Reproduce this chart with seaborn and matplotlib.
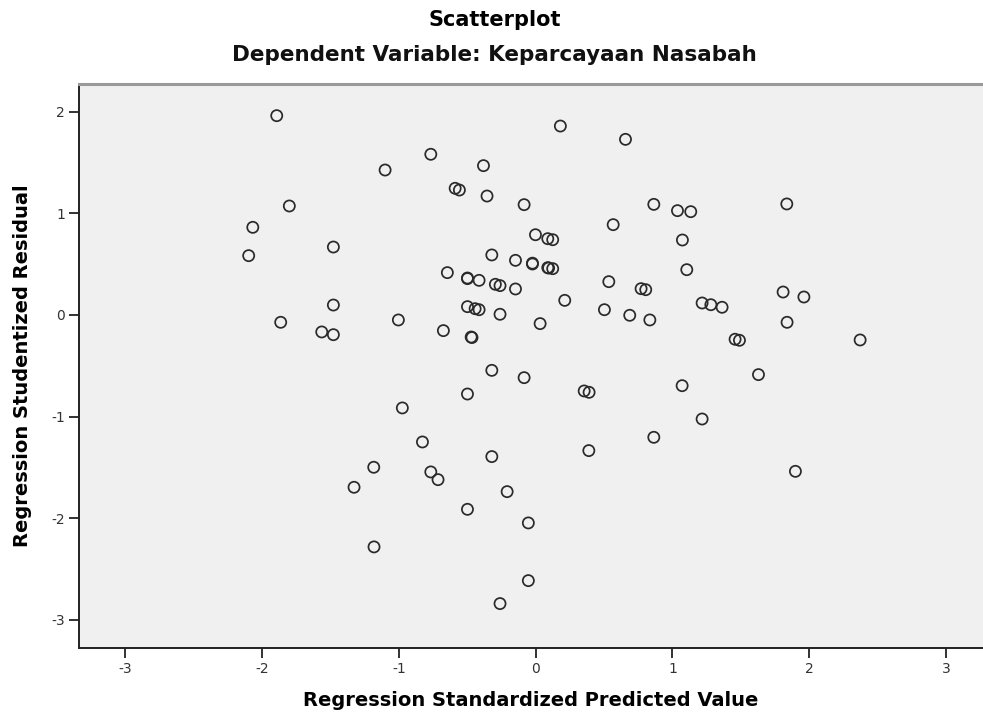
import matplotlib
matplotlib.use("Agg")
import matplotlib.pyplot as plt
import seaborn as sns

# Regression standardized predicted value (x) and studentized residual (y),
# read off the reference scatterplot
predicted = [
    -1.892, -1.100, -1.800, -2.067, -1.478, -2.097, -1.478, -1.863, -1.563, -1.478,
    0.181, 0.657, -0.766, -0.381, -0.588, -0.557, -0.355, -0.084, 0.864, 1.037,
    1.134, 0.567, 1.073, -0.001, 0.089, 0.125, -0.320, -0.147, -0.023, -0.023,
    0.089, 0.125, 0.095, -0.645, -0.498, -0.498, -0.413, -0.294, -0.260, -0.147,
    0.535, 0.771, 0.805, 0.213, -0.498, -0.442, -0.413, -0.260, 0.503, 0.688,
    0.835, -1.003, -0.674, -0.471, -0.465, 0.033, 1.105, 1.809, 1.961, 1.217,
    1.281, 1.363, 1.838, 1.458, 1.490, 2.372, 1.836, -1.183, -1.327, -1.181,
    -0.320, -0.084, -0.498, 0.355, 0.391, 1.071, -0.974, -0.827, 0.864, 0.389,
    -0.320, -0.766, -0.713, -0.208, -0.498, -0.053, -0.053, -0.260, 1.629, 1.217,
    1.899,
]
residual = [
    1.962, 1.427, 1.073, 0.863, 0.669, 0.584, 0.098, -0.072, -0.167, -0.194,
    1.860, 1.729, 1.582, 1.470, 1.247, 1.230, 1.171, 1.086, 1.089, 1.027,
    1.017, 0.889, 0.738, 0.790, 0.751, 0.741, 0.591, 0.538, 0.502, 0.510,
    0.466, 0.456, 0.462, 0.417, 0.364, 0.358, 0.341, 0.302, 0.289, 0.256,
    0.328, 0.259, 0.249, 0.144, 0.082, 0.062, 0.052, 0.007, 0.052, -0.003,
    -0.049, -0.049, -0.154, -0.217, -0.222, -0.085, 0.446, 0.226, 0.177, 0.118,
    0.101, 0.076, -0.072, -0.239, -0.249, -0.246, 1.093, -1.499, -1.696, -2.283,
    -0.545, -0.617, -0.778, -0.748, -0.761, -0.696, -0.915, -1.250, -1.204, -1.335,
    -1.394, -1.545, -1.621, -1.739, -1.913, -2.047, -2.615, -2.841, -0.587, -1.024,
    -1.539,
]
x_ticks = [-3, -2, -1, 0, 1, 2, 3]
y_ticks = [-3, -2, -1, 0, 1, 2]

sns.set_style("white")
plt.rcParams["font.family"] = ["DejaVu Sans"]
plt.rcParams["axes.unicode_minus"] = False  # SPSS prints a plain hyphen

fig = plt.figure(figsize=(9.83, 7.19), dpi=100)
ax = fig.add_axes([0.0804, 0.0992, 0.9196, 0.784])
ax.set_facecolor("#f0f0f0")

sns.scatterplot(x=predicted, y=residual, ax=ax, marker="o", s=64,
                facecolor="none", edgecolor="#2a2a2a", linewidth=1.25)

ax.set_xlim(-3.337, 3.27)
ax.set_ylim(-3.275, 2.274)
ax.set_xticks(x_ticks)
ax.set_yticks(y_ticks)
ax.tick_params(axis="both", bottom=True, left=True, direction="out",
               length=7, width=1.3, color="#222222", labelsize=10,
               labelcolor="#333333", pad=3)

for side in ["left", "bottom"]:
    ax.spines[side].set_color("#222222")
    ax.spines[side].set_linewidth(1.4)
ax.spines["top"].set_color("#9a9a9a")
ax.spines["top"].set_linewidth(2.2)
ax.spines["right"].set_visible(False)

ax.set_xlabel("Regression Standardized Predicted Value", fontsize=14,
              fontweight="bold", color="black", labelpad=11)
ax.set_ylabel("Regression Studentized Residual", fontsize=14,
              fontweight="bold", color="black", labelpad=14)

fig.text(0.503, 0.972, "Scatterplot", ha="center", va="center",
         fontsize=15, fontweight="bold", color="black")
fig.text(0.503, 0.923, "Dependent Variable: Keparcayaan Nasabah",
         ha="center", va="center", fontsize=15.5, fontweight="bold",
         color="#111111")

fig.savefig("out.png", dpi=100, facecolor="white")
